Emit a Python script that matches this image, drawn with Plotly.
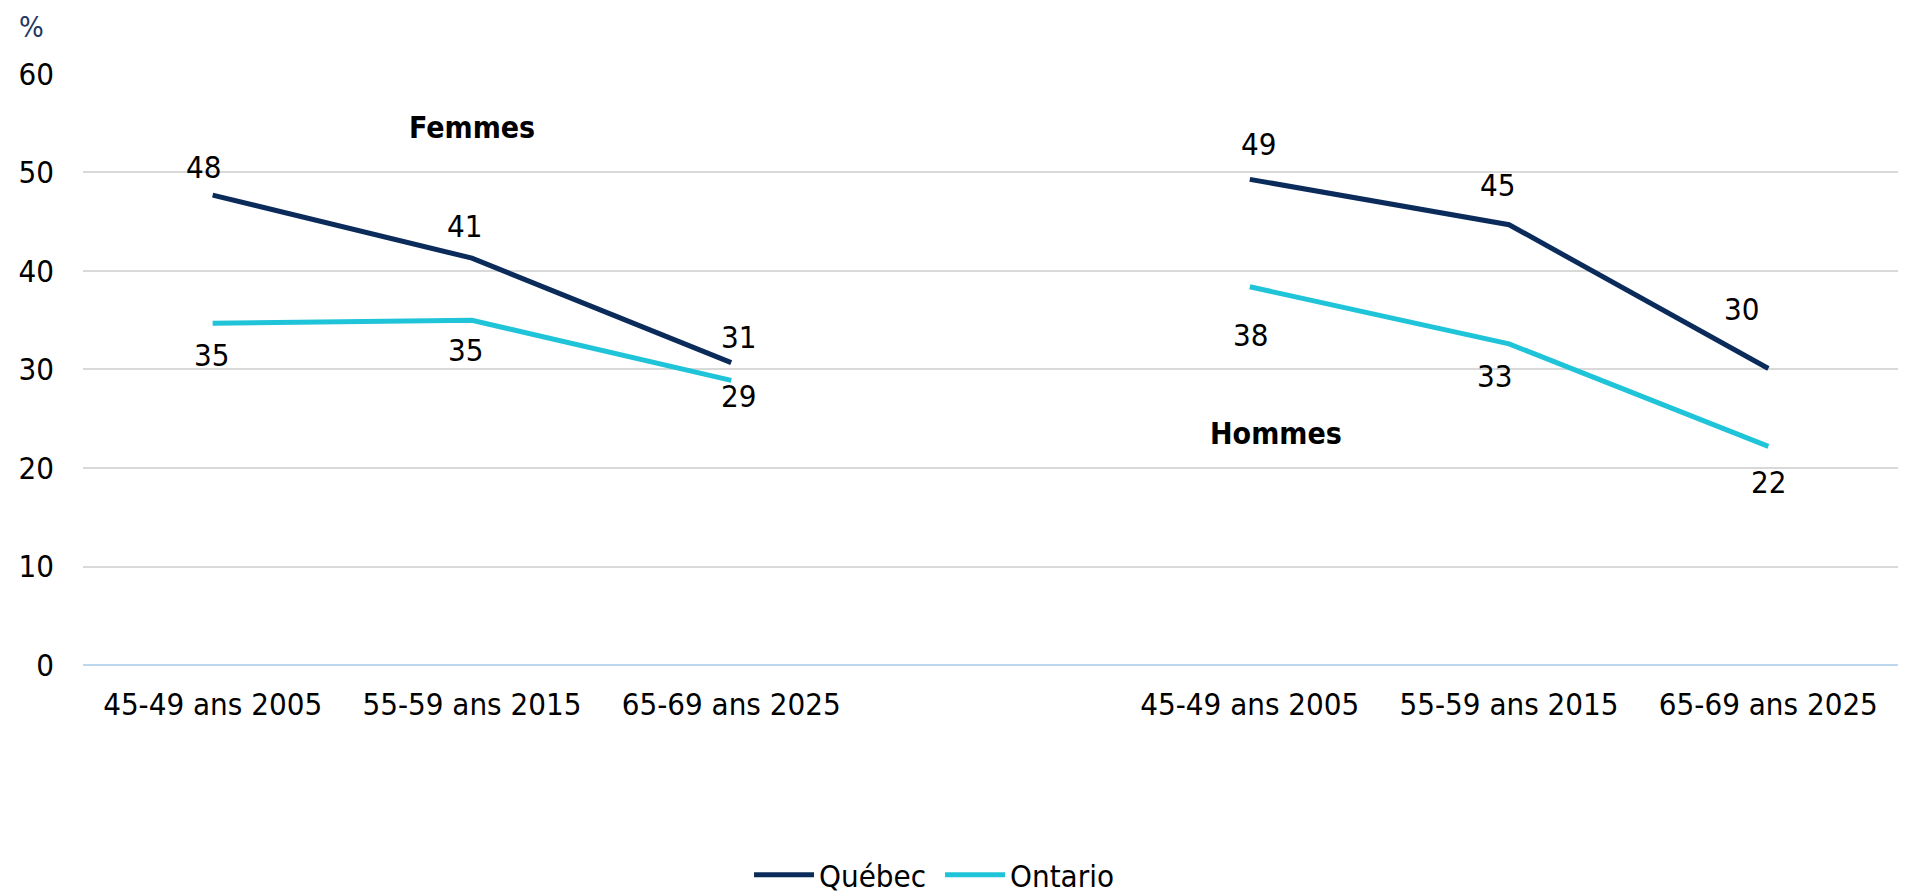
import plotly.graph_objects as go

categories = ["45-49 ans 2005", "55-59 ans 2015", "65-69 ans 2025"]
groups = ["Femmes", "Hommes"]

quebec_femmes = [47.7, 41.3, 30.7]
ontario_femmes = [34.7, 35.0, 28.9]
quebec_hommes = [49.3, 44.7, 30.1]
ontario_hommes = [38.4, 32.6, 22.2]

y_ticks = [0, 10, 20, 30, 40, 50, 60]

QC = "#0B2B5B"
ON = "#20C4D9"
FONT = "DejaVu Sans Condensed, DejaVu Sans, sans-serif"

# label nudges in px (x, y) per group, like the hand-placed labels in the original
qc_label_shift = [[(-9, 28), (-7, 32), (7, 26)], [(9, 35), (-12, 40), (-27, 60)]]
on_label_shift = [[(-1, -32), (-6, -30), (7, -16)], [(1, -48), (-15, -32), (0, -36)]]

# one blank slot between the two groups
step = len(categories) + 1
x_pos = [[g * step + i for i in range(len(categories))] for g in range(len(groups))]

fig = go.Figure()

series = [
    ("Québec", QC, [quebec_femmes, quebec_hommes], qc_label_shift),
    ("Ontario", ON, [ontario_femmes, ontario_hommes], on_label_shift),
]
for name, color, vals, shifts in series:
    for g, v in enumerate(vals):
        fig.add_trace(go.Scatter(
            x=x_pos[g], y=v, name=name, legendgroup=name, showlegend=(g == 0),
            mode="lines", line=dict(color=color, width=5),
            hoverinfo="skip",
        ))
        # data labels
        for xx, yy, (dx, dy) in zip(x_pos[g], v, shifts[g]):
            fig.add_annotation(x=xx, y=yy, text=f"{yy:.0f}", showarrow=False,
                               xshift=dx, yshift=dy,
                               font=dict(size=31, color="black", family=FONT))

# group titles
fig.add_annotation(x=x_pos[0][1], y=54.6, text="<b>Femmes</b>", showarrow=False,
                   font=dict(size=30, color="black", family=FONT))
fig.add_annotation(x=x_pos[1][0] + 0.1, y=23.5, text="<b>Hommes</b>", showarrow=False,
                   font=dict(size=30, color="black", family=FONT))
fig.add_annotation(xref="paper", yref="paper", x=-0.0364, y=1.0778, text="%",
                   showarrow=False, xanchor="left", yanchor="middle",
                   font=dict(size=29, color="#1F3864", family=FONT))

tickvals = [p for grp in x_pos for p in grp]
ticktext = categories * len(groups)

fig.update_layout(
    width=1906, height=894,
    margin=dict(l=75, r=16, t=65, b=237),
    paper_bgcolor="white", plot_bgcolor="white",
    font=dict(family=FONT, size=31, color="black"),
    showlegend=True,
    legend=dict(orientation="h", xref="container", yref="container",
                x=0.489, xanchor="center", y=0.03, yanchor="middle",
                font=dict(size=31), itemwidth=60, entrywidth=116, traceorder="normal"),
    xaxis=dict(range=[-0.5, len(groups) * step - 1.5], tickvals=tickvals, ticktext=ticktext,
               showgrid=False, zeroline=False, showline=False, ticks="",
               ticklabelstandoff=18),
    yaxis=dict(range=[0, 60.1], tickvals=y_ticks, showgrid=True, gridcolor="#D9D9D9",
               gridwidth=1.5, zeroline=True, zerolinecolor="#BDD7EE", zerolinewidth=1.5,
               showline=False, ticks="", ticklabelstandoff=28),
)

fig.write_html("out.html")
